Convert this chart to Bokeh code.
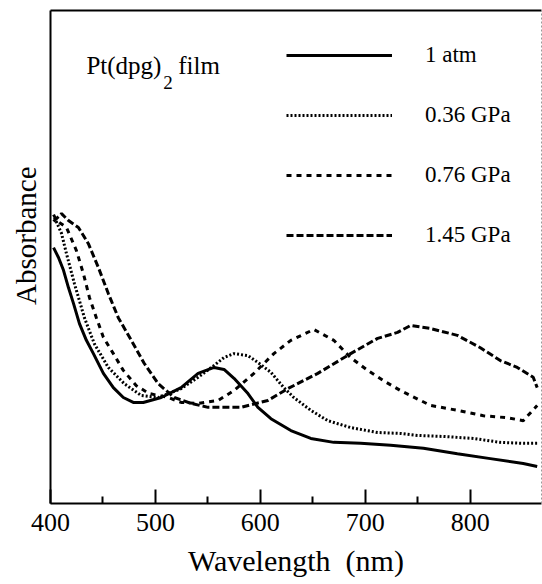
from bokeh.plotting import figure
from bokeh.models import Range1d, LinearAxis, Legend, LegendItem, Label, FixedTicker, Title
from bokeh.embed import file_html
from bokeh.resources import INLINE

FONT = "Liberation Serif"

# ---- data ----
wl_1atm = [402.9, 407.6, 412.4, 417.1, 421.9, 427.6, 434.2, 440.9, 450.4, 459.9, 469.4, 478.9,
           488.4, 505.5, 524.5, 540.7, 555.9, 565.4, 574.9, 588.2, 597.7, 610.1, 629.1, 648.1,
           670.0, 695.6, 724.2, 755.5, 787.8, 819.2, 850.6, 863.9]
abs_1atm = [0.519, 0.499, 0.473, 0.438, 0.406, 0.365, 0.331, 0.304, 0.264, 0.235, 0.215, 0.205,
            0.205, 0.215, 0.235, 0.264, 0.276, 0.272, 0.254, 0.223, 0.195, 0.172, 0.148, 0.132,
            0.124, 0.122, 0.118, 0.112, 0.101, 0.091, 0.081, 0.075]

wl_036 = [403.8, 410.5, 415.2, 422.8, 432.3, 441.8, 455.1, 470.3, 486.5, 502.7, 524.5, 540.7,
          555.9, 565.4, 574.9, 588.2, 597.7, 610.1, 622.4, 631.9, 648.1, 664.3, 686.1, 711.8,
          733.7, 749.8, 774.5, 803.1, 828.7, 850.6, 863.9]
abs_036 = [0.580, 0.548, 0.507, 0.446, 0.377, 0.324, 0.276, 0.243, 0.219, 0.215, 0.233, 0.256,
           0.280, 0.296, 0.304, 0.300, 0.286, 0.266, 0.235, 0.215, 0.189, 0.168, 0.154, 0.144,
           0.142, 0.138, 0.136, 0.132, 0.124, 0.122, 0.122]

wl_076 = [402.9, 405.7, 415.2, 424.7, 431.4, 437.1, 443.7, 450.4, 459.9, 469.4, 481.8, 494.1,
          512.2, 524.5, 540.7, 559.7, 574.9, 593.9, 612.9, 629.1, 651.0, 670.0, 686.1, 702.3,
          717.5, 733.7, 762.2, 787.8, 812.6, 835.4, 850.6, 863.9]
abs_076 = [0.586, 0.574, 0.560, 0.513, 0.466, 0.418, 0.377, 0.337, 0.304, 0.270, 0.239, 0.223,
           0.215, 0.205, 0.203, 0.209, 0.229, 0.264, 0.304, 0.331, 0.353, 0.331, 0.296, 0.270,
           0.249, 0.229, 0.199, 0.189, 0.178, 0.174, 0.168, 0.199]

wl_145 = [402.9, 410.5, 417.1, 426.6, 436.1, 445.6, 455.1, 464.6, 477.0, 489.4, 502.7, 517.9,
          534.0, 550.2, 581.6, 607.2, 626.2, 654.8, 686.1, 711.8, 730.8, 743.2, 762.2, 787.8,
          809.7, 828.7, 844.9, 860.1, 863.9]
abs_145 = [0.572, 0.588, 0.574, 0.560, 0.527, 0.479, 0.426, 0.377, 0.331, 0.284, 0.243, 0.215,
           0.203, 0.195, 0.195, 0.209, 0.233, 0.264, 0.304, 0.335, 0.347, 0.361, 0.355, 0.341,
           0.316, 0.290, 0.276, 0.256, 0.235]

labels = ["1 atm", "0.36 GPa", "0.76 GPa", "1.45 GPa"]
x_ticks = [400, 500, 600, 700, 800]
x_minor = [450, 550, 650, 750]

# ---- figure ----
p = figure(width=542, height=584, output_backend="svg", toolbar_location=None,
           x_range=Range1d(400, 868), y_range=Range1d(0, 1),
           min_border_left=50, min_border_right=1, min_border_top=10, min_border_bottom=81)
p.grid.visible = False
p.outline_line_color = None

p.xaxis.ticker = FixedTicker(ticks=x_ticks, minor_ticks=x_minor)
p.xaxis.major_tick_in = 14
p.xaxis.major_tick_out = 0
p.xaxis.minor_tick_in = 7
p.xaxis.minor_tick_out = 0
p.xaxis.major_tick_line_width = 2
p.xaxis.minor_tick_line_width = 2
p.xaxis.axis_line_width = 2
p.xaxis.major_label_text_font = FONT
p.xaxis.major_label_text_font_size = "26px"
p.xaxis.major_label_text_color = "black"
p.xaxis.major_label_standoff = 10
p.xaxis.axis_label = "Wavelength \u00a0(nm)"
p.xaxis.axis_label_text_font = FONT
p.xaxis.axis_label_text_font_size = "30px"
p.xaxis.axis_label_text_font_style = "normal"
p.xaxis.axis_label_text_color = "black"
p.xaxis.axis_label_standoff = 10

p.yaxis.ticker = FixedTicker(ticks=[])
p.yaxis.axis_line_width = 2
p.yaxis.major_tick_line_color = None
p.yaxis.minor_tick_line_color = None

top = LinearAxis(ticker=FixedTicker(ticks=[]), axis_line_width=2,
                 major_tick_line_color=None, minor_tick_line_color=None)
p.add_layout(top, "above")
right = LinearAxis(ticker=FixedTicker(ticks=[]), axis_line_width=1, axis_line_color="#9a9a9a",
                   axis_line_dash="2 2", major_tick_line_color=None, minor_tick_line_color=None)
p.add_layout(right, "right")

r1 = p.line(wl_1atm, abs_1atm, line_color="black", line_width=3)
r2 = p.line(wl_036, abs_036, line_color="black", line_width=3, line_dash="2 2")
r3 = p.line(wl_076, abs_076, line_color="black", line_width=3, line_dash="5 5")
r4 = p.line(wl_145, abs_145, line_color="black", line_width=3, line_dash="7 3")

legend = Legend(items=[LegendItem(label=labels[i], renderers=[r]) for i, r in enumerate([r1, r2, r3, r4])],
                location=(236, 255), glyph_width=106, glyph_height=20, label_height=20,
                spacing=34, label_standoff=33, padding=0, margin=0,
                border_line_color=None, background_fill_alpha=0,
                label_text_font=FONT, label_text_font_size="23px", label_text_color="black")
p.add_layout(legend)

p.add_layout(Label(x=434.2, y=0.888, text="Pt(dpg)", text_font=FONT, text_font_size="25px",
                   text_baseline="alphabetic", text_color="black"))
p.add_layout(Label(x=507.4, y=0.854, text="2", text_font=FONT, text_font_size="19px",
                   text_baseline="alphabetic", text_color="black"))
p.add_layout(Label(x=521.7, y=0.888, text="film", text_font=FONT, text_font_size="25px",
                   text_baseline="alphabetic", text_color="black"))

ytitle = Title(text="Absorbance", align="right", offset=156, standoff=14,
               vertical_align="top",
               text_font=FONT, text_font_size="29px", text_font_style="normal",
               text_color="black")
p.add_layout(ytitle, "left")

open("out.html", "w").write(file_html(p, INLINE))
